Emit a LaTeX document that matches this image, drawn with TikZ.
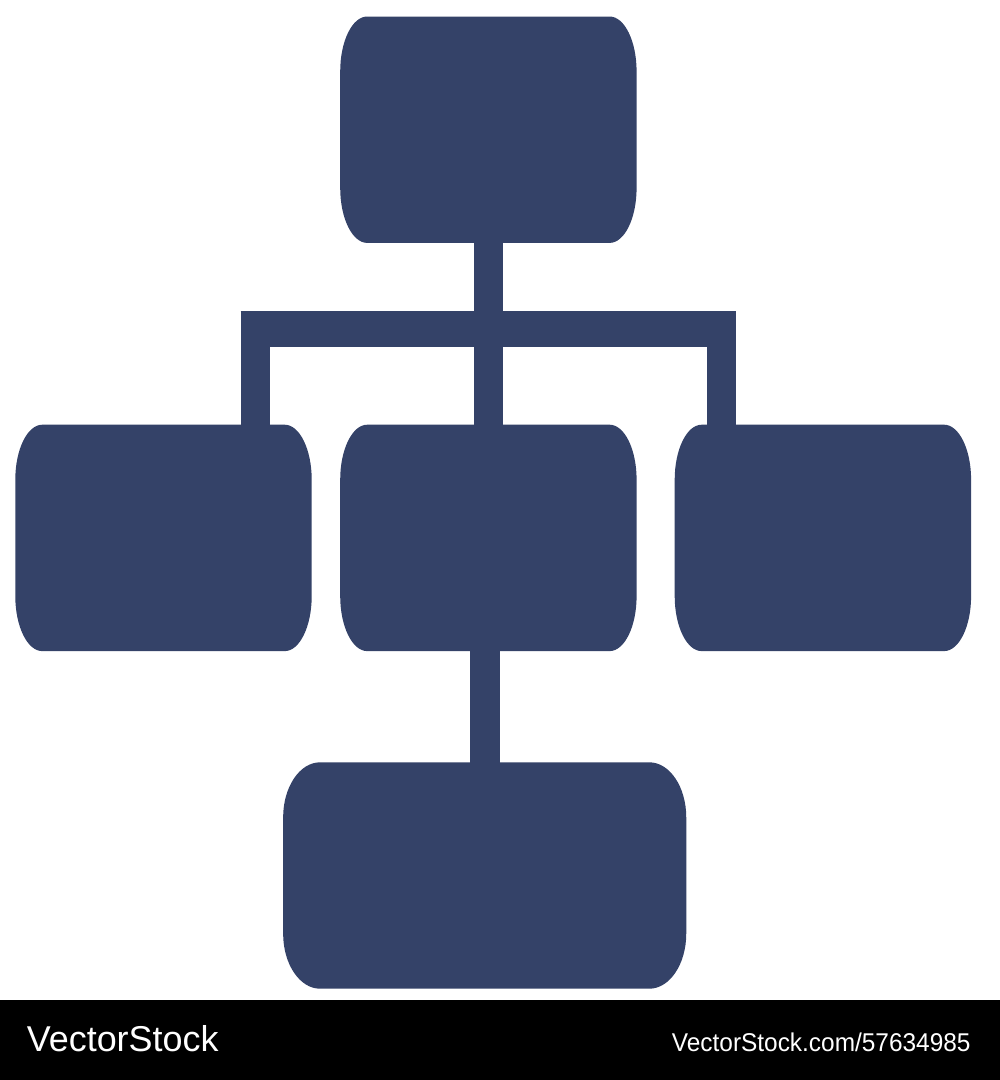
\documentclass[tikz,border=0pt]{standalone}
\usepackage{fontspec}
\setmainfont{Liberation Sans}
\usetikzlibrary{calc}
\definecolor{navy}{RGB}{52,66,104}
\newcommand\ovbox[3]{%
  \fill[navy] ($(#1.north west)+(#2pt,0)$) -- ($(#1.north east)+(-#2pt,0)$)
    arc[start angle=90,end angle=0,x radius=#2pt,y radius=#3pt]
    -- ($(#1.south east)+(0,#3pt)$)
    arc[start angle=0,end angle=-90,x radius=#2pt,y radius=#3pt]
    -- ($(#1.south west)+(#2pt,0)$)
    arc[start angle=-90,end angle=-180,x radius=#2pt,y radius=#3pt]
    -- ($(#1.north west)+(0,-#3pt)$)
    arc[start angle=180,end angle=90,x radius=#2pt,y radius=#3pt] -- cycle;}
\tikzset{
  boxnode/.style={rectangle,inner sep=0pt,minimum width=296pt,minimum height=226pt},
  conn/.style={draw=navy,line width=29pt,line cap=butt,shorten <=-2pt,shorten >=-2pt},
  wm/.style={text=white,inner sep=0pt}
}
\begin{document}
\begin{tikzpicture}[x=1pt,y=1pt]
\useasboundingbox (0,0) rectangle (1000,-1080);
\fill[white] (0,0) rectangle (1000,-1000);
% box placeholders
\node[boxnode] (top) at (488.4,-129.7) {};
\node[boxnode] (left) at (163.5,-537.9) {};
\node[boxnode] (mid) at (488.4,-537.9) {};
\node[boxnode] (right) at (822.9,-537.9) {};
\node[boxnode,minimum width=402.7pt] (bottom) at (484.7,-875.5) {};
% connectors
\coordinate (barL) at (240.7,-328.7);
\coordinate (barR) at (736,-328.7);
\coordinate (jl) at (255.4,-328.7);
\coordinate (jr) at (721.4,-328.7);
\draw[navy,line width=36pt,line cap=butt] (barL) -- (barR);
\draw[conn] (top.south) -- (mid.north);
\draw[conn] (jl) -- (jl |- left.north);
\draw[conn] (jr) -- (jr |- right.north);
\draw[conn,line width=30pt] (bottom.north |- mid.south) -- (bottom.north);
% boxes
\ovbox{top}{27}{55}
\ovbox{left}{27}{55}
\ovbox{mid}{27}{55}
\ovbox{right}{27}{55}
\ovbox{bottom}{37}{55}
% watermark bar
\fill[black] (0,-1000) rectangle (1000,-1080);
\node[wm,anchor=base west,font=\fontsize{35.9pt}{40pt}\selectfont] (logo) at (26.7,-1051.7) {VectorStock};
\node[wm,anchor=base east,xscale=0.95,font=\fontsize{25.7pt}{30pt}\selectfont] (url) at (970.7,-1051.7) {VectorStock.com/57634985};
\end{tikzpicture}
\end{document}
